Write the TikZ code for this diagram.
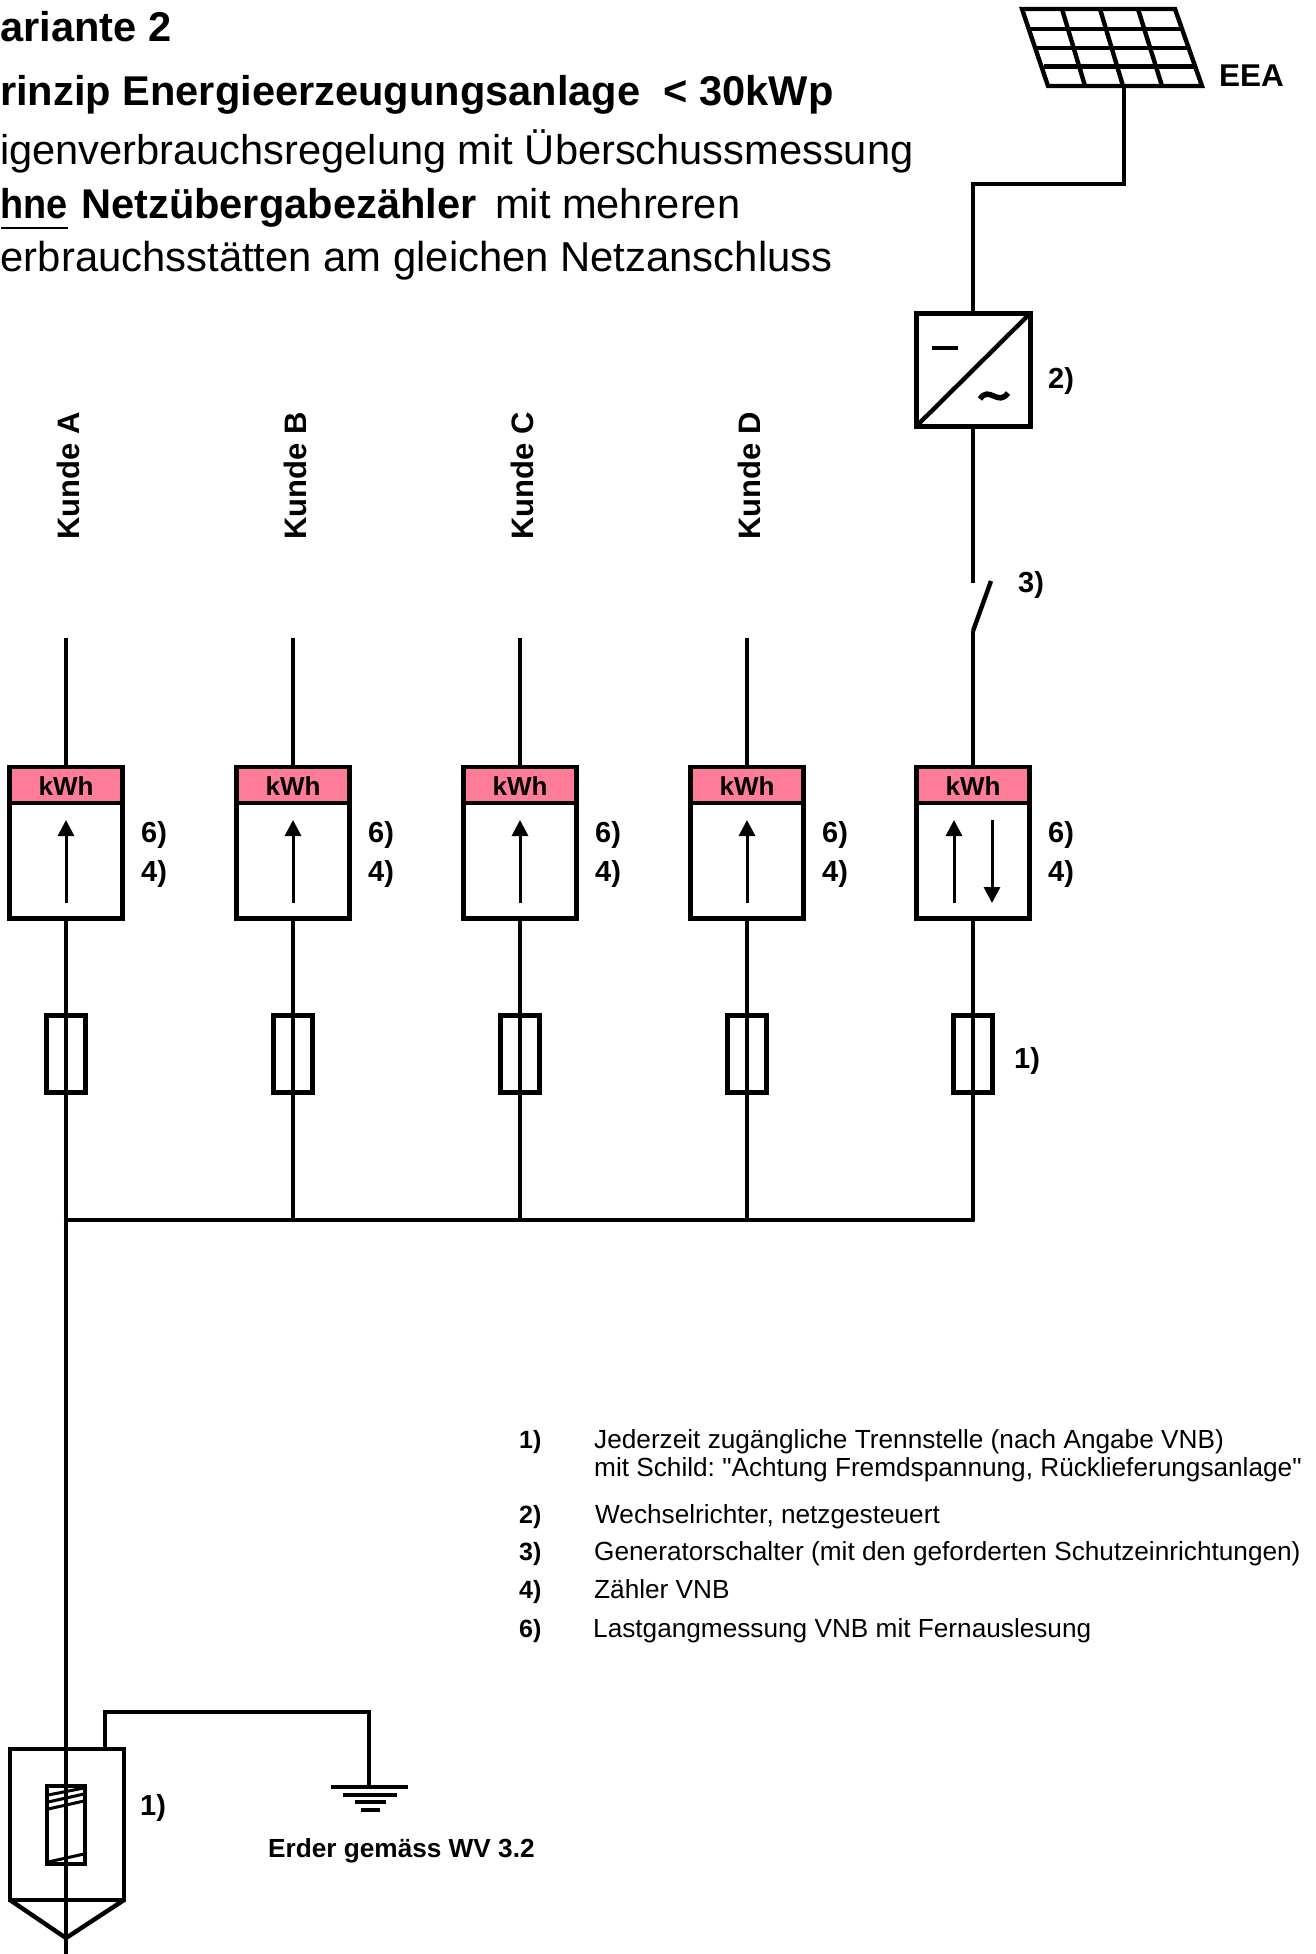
\documentclass[tikz,border=0pt]{standalone}
\usepackage{fontspec}
\setmainfont{Liberation Sans}
\newfontfamily\plainquote{Liberation Sans}
\usetikzlibrary{arrows.meta,positioning}
\definecolor{kwhpink}{RGB}{255,124,153}
\newcommand{\fsz}[1]{\fontsize{#1}{#1}\selectfont}
\tikzset{
wire/.style={line width=4.4pt},
meterbox/.style={draw,line width=5pt,minimum width=113pt,minimum height=151pt,inner sep=0pt,outer sep=0pt},
kwhband/.style={fill=kwhpink,minimum width=108pt,minimum height=34pt,inner sep=0pt,font=\fsz{26}\bfseries},
fusebox/.style={draw,line width=4.2pt,minimum width=39pt,minimum height=77pt,inner sep=0pt,outer sep=0pt},
flow/.style={line width=3pt,-{Triangle[length=16pt,width=16pt]}},
title/.style={anchor=base west,inner sep=0pt,font=\fsz{41.6}\bfseries},
intro/.style={anchor=base west,inner sep=0pt,font=\fsz{41.6}},
note/.style={font=\fsz{29}\bfseries,inner sep=0pt},
legnum/.style={anchor=base west,inner sep=0pt,font=\fsz{25}\bfseries},
legtxt/.style={anchor=base west,inner sep=0pt,font=\fsz{26.2}}
}
\begin{document}
\begin{tikzpicture}[x=1pt,y=-1pt]
\useasboundingbox (0,0) rectangle (1316,1954);
% heading
\node[title] (head) at (0,41) {ariante 2};
\node[title] (prinzip) at (0,105) {rinzip Energieerzeugungsanlage\ \ < 30kWp};
\node[intro] (eigen) at (0,164) {igenverbrauchsregelung mit Überschussmessung};
\node[title] (ohne) at (0.5,218) {\scalebox{.91}[1]{hne}};
\node[title] (netz) at (81,218) {Netzübergabezähler};
\node[intro] (mehr) at (495,218) {mit mehreren};
\node[intro,font=\fsz{41.8}] (verb) at (0.5,271) {erbrauchsstätten am gleichen Netzanschluss};
\draw[line width=2pt] ([yshift=-10pt]ohne.base west) -- ([yshift=-10pt]ohne.base east);
% customers
\foreach \x/\n in {66/A,293/B,520/C,747/D}{
\node[note,font=\fsz{31}\bfseries,rotate=90,anchor=west] (k\n) at (\x+2,540) {Kunde \n};
\node[meterbox] (m\n) at (\x,842.5) {};
\node[kwhband] (b\n) at (\x,786) {kWh};
\draw[wire] (m\n.north west |- b\n.south) -- (m\n.north east |- b\n.south);
\node[fusebox] (f\n) at (\x,1054) {};
\coordinate (t\n) at (\x,638);
\coordinate (u\n) at (\x,903);
\coordinate (v\n) at (\x,820);
\coordinate (bus\n) at (\x,1220);
\draw[wire] (t\n) -- (m\n.north);
\draw[wire] (m\n.south) -- (bus\n);
\draw[flow] (u\n) -- (v\n);
\node[note,anchor=west] (six\n) at (\x+75,835) {6)};
\node[note,anchor=west] (four\n) at (\x+75,874) {4)};
}
% generation feed
\coordinate (pa) at (1022,9);
\coordinate (pb) at (1175,9);
\coordinate (pc) at (1202,86);
\coordinate (pd) at (1048,86);
\draw[wire,line join=miter] (pa) -- (pb) -- (pc) -- (pd) -- cycle;
\foreach \ya/\xa/\xb in {29/1030/1183,48/1037/1190,66.5/1044/1197}
\draw[wire] (\xa,\ya) -- (\xb,\ya);
\foreach \xa/\xb in {1062/1085,1100/1123,1138/1162}
\draw[wire] (\xa,9) -- (\xb,86);
\node[note,font=\fsz{31.5}\bfseries,anchor=west] (eea) at (1219,76) {EEA};
\node[draw,line width=5pt,minimum width=114pt,minimum height=113pt,inner sep=0pt,outer sep=0pt] (inv) at (973,370) {};
\draw[wire] (inv.south west) -- (inv.north east);
\draw[wire] (932,348) -- (958,348);
\draw[line width=5.5pt] (980,399) .. controls (989,385) and (998,407) .. (1008,393);
\node[note,anchor=west] (two) at (1048,381) {2)};
\coordinate (sa) at (973,583);
\coordinate (sb) at (973,631);
\coordinate (sc) at (991,581);
\draw[wire] (1124,86) -- (1124,184) -- (973,184) -- (inv.north);
\draw[wire] (inv.south) -- (sa);
\draw[wire] (sc) -- (sb);
\node[note,anchor=west] (three) at (1018,585) {3)};
\node[meterbox] (mE) at (973,842.5) {};
\node[kwhband] (bE) at (973,786) {kWh};
\draw[wire] (mE.north west |- bE.south) -- (mE.north east |- bE.south);
\node[fusebox] (fE) at (973,1054) {};
\coordinate (busE) at (973,1220);
\draw[wire] (sb) -- (mE.north);
\draw[wire,line cap=round] (mE.south) -- (busE);
\draw[wire,line cap=round] (busA) -- (busE);
\coordinate (ua) at (954,903);
\coordinate (ub) at (954,820);
\coordinate (da) at (992,820);
\coordinate (db) at (992,903);
\draw[flow] (ua) -- (ub);
\draw[flow] (da) -- (db);
\node[note,anchor=west] (sixE) at (1048,835) {6)};
\node[note,anchor=west] (fourE) at (1048,874) {4)};
\node[note,anchor=west] (oneE) at (1014,1061) {1)};
% main fuse and earth
\coordinate (end) at (66,1954);
\draw[wire] (busA) -- (end);
\coordinate (ha) at (10,1749);
\coordinate (hb) at (124,1749);
\coordinate (hc) at (124,1900);
\coordinate (hd) at (10,1900);
\coordinate (tip) at (66,1938);
\draw[wire] (ha) -- (hb) -- (hc) -- (hd) -- cycle;
\draw[wire] (hd) -- (tip) -- (hc);
\node[draw,line width=4.4pt,minimum width=38pt,minimum height=78pt,inner sep=0pt,outer sep=0pt] (mainfuse) at (66,1825) {};
\foreach \ya/\yb in {1795/1788,1802/1794,1809/1801,1862/1854}
\draw[line width=3pt] (48,\ya) -- (84,\yb);
\node[note,anchor=west] (oneA) at (140,1808) {1)};
\coordinate (ea) at (105,1749);
\coordinate (eb) at (105,1712);
\coordinate (ec) at (369,1712);
\coordinate (ed) at (369,1787);
\draw[wire] (ea) -- (eb) -- (ec) -- (ed);
\draw[wire] (331,1787) -- (408,1787);
\draw[line width=4pt] (343,1795) -- (397,1795);
\draw[line width=4pt] (355,1802) -- (386,1802);
\draw[line width=3.4pt] (361,1810) -- (380,1810);
\node[note,font=\fsz{26.2}\bfseries,anchor=west] (erder) at (268,1851) {Erder gemäss WV 3.2};
% legend
\node[legnum] (n1) at (519,1448) {1)};
\node[legtxt] (l1) at (594,1448) {Jederzeit zugängliche Trennstelle (nach Angabe VNB)};
\node[legtxt] (l1b) at (594,1476) {\plainquote\frenchspacing mit Schild: "Achtung Fremdspannung, Rücklieferungsanlage"};
\node[legnum] (n2) at (519,1523) {2)};
\node[legtxt] (l2) at (595,1523) {Wechselrichter, netzgesteuert};
\node[legnum] (n3) at (519,1560) {3)};
\node[legtxt] (l3) at (594,1560) {Generatorschalter (mit den geforderten Schutzeinrichtungen)};
\node[legnum] (n4) at (519,1598) {4)};
\node[legtxt] (l4) at (594,1598) {Zähler VNB};
\node[legnum] (n6) at (519,1637) {6)};
\node[legtxt] (l6) at (593,1637) {Lastgangmessung VNB mit Fernauslesung};
\end{tikzpicture}
\end{document}
